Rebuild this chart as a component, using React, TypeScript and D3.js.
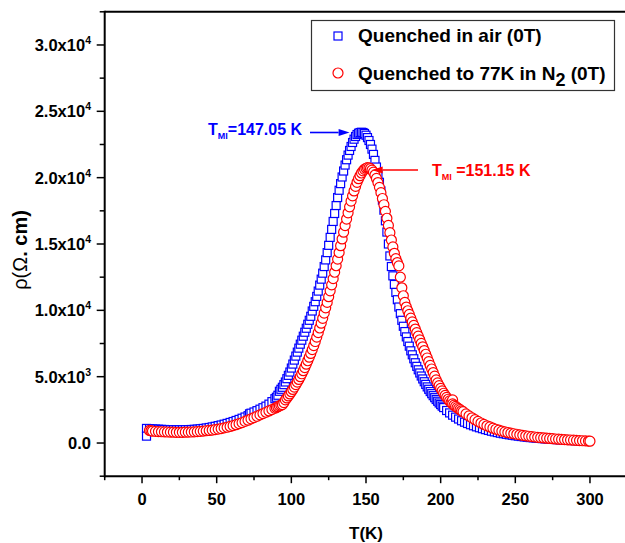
import React from "react";
import * as d3 from "d3";

// [T (K), rho (Ω·cm)] — quenched in air (0T)
const airData: [number, number][] = [
  [3, 1100], [3, 520], [5, 1080], [7, 1060], [9, 1050], [11, 1040], [13, 1030], [15, 1020], [17, 1010], [19, 1000],
  [21, 1000], [23, 1000], [25, 1000], [27, 1000], [29, 1005], [31, 1010], [33, 1020], [35, 1035], [37, 1050], [39, 1075],
  [41, 1100], [43, 1135], [45, 1170], [47, 1215], [49, 1260], [51, 1310], [53, 1360], [55, 1420], [57, 1480], [59, 1550],
  [61, 1620], [63, 1700], [65, 1780], [67, 1870], [69, 1960], [71, 2060], [72, 2200], [73, 2250], [75, 2340], [77, 2440],
  [79, 2550], [81, 2660], [83, 2780], [85, 2930], [87, 3120], [89, 3340], [90, 3450], [91, 3600], [92, 3900], [93, 4050],
  [94, 4200], [95, 4400], [96, 4600], [97, 4850], [98, 5100], [99, 5350], [100, 5650], [101, 5950], [102, 6250], [103, 6550],
  [104, 6850], [105, 7150], [106, 7450], [107, 7750], [108, 8050], [109, 8350], [110, 8650], [111, 8950], [112, 9250], [113, 9550],
  [114, 9950], [115, 10300], [116, 10650], [117, 11050], [118, 11450], [119, 11900], [120, 12350], [121, 12800], [122, 13300], [123, 13800],
  [124, 14350], [125, 14900], [126, 15500], [127, 16100], [128, 16700], [129, 17300], [130, 17900], [131, 18500], [132, 19050], [133, 19550],
  [134, 20050], [135, 20500], [136, 20950], [137, 21350], [138, 21700], [139, 22050], [140, 22350], [141, 22650], [142, 22900], [143, 23100],
  [144, 23250], [145, 23350], [146, 23400], [147, 23420], [148, 23400], [149, 23330], [150, 23200], [151, 23020], [152, 22800], [153, 22500],
  [154, 22150], [155, 21750], [156, 21300], [157, 20800], [158, 20250], [159, 19650], [160, 19000], [161, 18300], [162, 17550], [163, 16750],
  [164, 15900], [165, 15000], [166, 14100], [167, 13300], [168, 12600], [169, 11950], [170, 11350], [171, 10800], [172, 10250], [173, 9750],
  [174, 9250], [175, 8800], [176, 8400], [177, 8000], [178, 7650], [179, 7300], [180, 6950], [181, 6650], [182, 6350], [183, 6050],
  [184, 5780], [185, 5520], [186, 5280], [187, 5050], [188, 4830], [189, 4620], [190, 4420], [191, 4230], [192, 4050], [193, 3880],
  [194, 3720], [195, 3570], [196, 3420], [197, 3280], [198, 3150], [199, 3020], [200, 2900], [201, 2780], [202, 2670], [204, 2450],
  [206, 2270], [208, 2100], [210, 1950], [212, 1810], [214, 1680], [216, 1570], [218, 1470], [220, 1380], [222, 1300], [224, 1220],
  [226, 1150], [228, 1080], [230, 1010], [232, 950], [234, 890], [236, 840], [238, 790], [240, 740], [242, 700], [244, 660],
  [246, 620], [248, 585], [250, 550], [252, 520], [254, 490], [256, 460], [258, 435], [260, 410], [262, 390], [264, 370],
  [266, 350], [268, 330], [270, 315], [272, 300], [274, 285], [276, 270], [278, 255], [280, 240], [282, 228], [284, 216],
  [286, 204], [288, 192], [290, 180], [292, 170], [294, 160],
];

// [T (K), rho (Ω·cm)] — quenched to 77K in N2 (0T)
const n2Data: [number, number][] = [
  [5, 950], [6, 920], [7, 900], [9, 880], [11, 860], [13, 850], [15, 840], [17, 830], [19, 820], [21, 815],
  [23, 810], [25, 810], [27, 810], [29, 815], [31, 820], [33, 830], [35, 845], [37, 860], [39, 880], [41, 900],
  [43, 925], [45, 950], [47, 980], [49, 1010], [51, 1050], [53, 1090], [55, 1140], [57, 1190], [59, 1250], [61, 1310],
  [63, 1380], [65, 1460], [67, 1540], [69, 1630], [71, 1720], [73, 1820], [75, 1920], [77, 2020], [79, 2120], [81, 2220],
  [83, 2320], [85, 2420], [87, 2520], [89, 2620], [90, 2680], [91, 2740], [92, 2800], [93, 2850], [94, 2900], [95, 3050],
  [96, 3250], [97, 3400], [98, 3550], [99, 3700], [100, 3870], [101, 4040], [102, 4220], [103, 4400], [104, 4590], [105, 4790],
  [106, 5000], [107, 5220], [108, 5450], [109, 5690], [110, 5940], [111, 6200], [112, 6470], [113, 6750], [114, 7040], [115, 7340],
  [116, 7650], [117, 7980], [118, 8320], [119, 8670], [120, 9030], [121, 9400], [122, 9790], [123, 10190], [124, 10600], [125, 11030],
  [126, 11470], [127, 11920], [128, 12390], [129, 12870], [130, 13360], [131, 13860], [132, 14360], [133, 14870], [134, 15380], [135, 15890],
  [136, 16390], [137, 16880], [138, 17350], [139, 17800], [140, 18230], [141, 18630], [142, 19000], [143, 19340], [144, 19650], [145, 19920],
  [146, 20150], [147, 20350], [148, 20510], [149, 20630], [150, 20710], [151, 20750], [152, 20740], [153, 20680], [154, 20570], [155, 20410],
  [156, 20200], [157, 19940], [158, 19630], [159, 19270], [160, 18870], [161, 18430], [162, 17960], [163, 17460], [164, 16940], [165, 16400],
  [166, 15850], [167, 15300], [168, 14780], [169, 14300], [170, 13900], [171, 13600], [172, 13350], [173, 12500], [174, 11700], [175, 11100],
  [176, 10600], [177, 10250], [178, 9970], [179, 9690], [180, 9410], [181, 9130], [182, 8860], [183, 8590], [184, 8320], [185, 8050],
  [186, 7780], [187, 7510], [188, 7250], [189, 6970], [190, 6690], [191, 6410], [192, 6130], [193, 5850], [194, 5580], [195, 5310],
  [196, 5040], [197, 4760], [198, 4530], [199, 4320], [200, 4120], [201, 3930], [202, 3750], [203, 3590], [204, 3440], [205, 3300],
  [206, 3170], [207, 3050], [208, 3250], [208, 2950], [209, 2850], [210, 2760], [211, 2670], [212, 2590], [213, 2510], [214, 2430],
  [215, 2360], [217, 2200], [219, 2040], [221, 1900], [223, 1760], [225, 1630], [227, 1510], [229, 1400], [231, 1300], [233, 1210],
  [235, 1120], [237, 1040], [239, 970], [241, 900], [243, 840], [245, 790], [247, 740], [249, 700], [251, 660], [253, 620],
  [255, 580], [257, 545], [259, 510], [261, 480], [263, 455], [265, 430], [267, 405], [269, 385], [271, 365], [273, 345],
  [275, 325], [277, 305], [279, 290], [281, 275], [283, 260], [285, 245], [287, 230], [289, 215], [291, 200], [293, 185],
  [295, 170], [297, 160], [299, 150], [300, 140],
];

const xMajorTicks = [0, 50, 100, 150, 200, 250, 300];
const xMinorTicks = [-25, 25, 75, 125, 175, 225, 275, 325];
const yMajorTicks = [0, 5000, 10000, 15000, 20000, 25000, 30000];
const yMinorTicks = [-2500, 2500, 7500, 12500, 17500, 22500, 27500, 32500];
const yTickMantissa = ["0.0", "5.0x10", "1.0x10", "1.5x10", "2.0x10", "2.5x10", "3.0x10"];
const yTickExp = ["", "3", "4", "4", "4", "4", "4"];

const legendLabels = ["Quenched in air (0T)", "Quenched to 77K in N"];
const peakAir = { t: 147.05, label: "=147.05 K" };
const peakN2 = { t: 151.15, label: " =151.15 K" };

const BLUE = "#0000ff";
const RED = "#ff0000";
const FONT = "Arial, 'Liberation Sans', Helvetica, sans-serif";

export default function App() {
  const W = 625, H = 543;
  const x = d3.scaleLinear().domain([-25, 325]).range([104.7, 627.3]);
  const y = d3.scaleLinear().domain([-2500, 32500]).range([476.2, 11.8]);
  const x0 = x(-25), x1 = x(325), yb = y(-2500), yt = y(32500);
  const sq = 8;
  const r = 5;

  const arrow = (xs: number, xe: number, yy: number, color: string) => {
    const dir = xe > xs ? 1 : -1;
    const hl = 11, hw = 3.5;
    return (
      <g>
        <line x1={xs} y1={yy} x2={xe - dir * hl} y2={yy} stroke={color} strokeWidth={1.6} />
        <path d={`M${xe},${yy} L${xe - dir * hl},${yy - hw} L${xe - dir * hl},${yy + hw} Z`} fill={color} />
      </g>
    );
  };

  return (
    <svg width={W} height={H} style={{ position: "absolute", left: 0, top: 0, background: "#fff" }} fontFamily={FONT}>
      <rect x={0} y={0} width={W} height={H} fill="#fff" />
      <g>
        {airData.map(([t, v], i) => (
          <rect key={"a" + i} x={x(t) - sq / 2} y={y(v) - sq / 2} width={sq} height={sq}
            fill="#fff" stroke={BLUE} strokeWidth={1.2} />
        ))}
      </g>
      <g>
        {n2Data.map(([t, v], i) => (
          <circle key={"n" + i} cx={x(t)} cy={y(v)} r={r} fill="#fff" stroke={RED} strokeWidth={1.2} />
        ))}
      </g>

      <g stroke="#000" strokeWidth={2} fill="none">
        <line x1={x0} y1={yt} x2={x1} y2={yt} />
        <line x1={x0} y1={yb} x2={x1} y2={yb} />
        <line x1={x0} y1={yt - 1} x2={x0} y2={yb + 1} />
        <line x1={x1} y1={yt - 1} x2={x1} y2={yb + 1} />
      </g>

      <g stroke="#000" strokeWidth={1.5}>
        {xMajorTicks.map((t) => (
          <line key={"xM" + t} x1={x(t)} x2={x(t)} y1={yb} y2={yb + 7} />
        ))}
        {xMinorTicks.map((t) => (
          <line key={"xm" + t} x1={x(t)} x2={x(t)} y1={yb} y2={yb + 4} />
        ))}
        {yMajorTicks.map((v) => (
          <line key={"yM" + v} x1={x0 - 8} x2={x0} y1={y(v)} y2={y(v)} />
        ))}
        {yMinorTicks.map((v) => (
          <line key={"ym" + v} x1={x0 - 5} x2={x0} y1={y(v)} y2={y(v)} />
        ))}
      </g>

      <g fontSize={16.5} fontWeight="bold" textAnchor="middle" fill="#000">
        {xMajorTicks.map((t) => (
          <text key={"xl" + t} x={x(t)} y={505}>{t}</text>
        ))}
      </g>
      <g fontSize={16.5} fontWeight="bold" textAnchor="end" fill="#000">
        {yMajorTicks.map((v, i) => (
          <text key={"yl" + v} x={91} y={y(v) + 6}>
            {yTickMantissa[i]}
            {yTickExp[i] ? <tspan fontSize={10.5} dy={-7}>{yTickExp[i]}</tspan> : null}
          </text>
        ))}
      </g>

      <text x={366} y={539} fontSize={17} fontWeight="bold" textAnchor="middle">T(K)</text>
      <text transform="translate(27,250) rotate(-90)" fontSize={20} textAnchor="middle">
        <tspan fontWeight="normal">ρ(Ω</tspan>
        <tspan fontWeight="bold">. cm)</tspan>
      </text>

      <rect x={311.5} y={20.5} width={303} height={70} fill="#fff" stroke="#333" strokeWidth={1.2} />
      <rect x={338 - 4} y={36 - 4} width={8} height={8} fill="#fff" stroke={BLUE} strokeWidth={1.2} />
      <circle cx={338} cy={73} r={5} fill="#fff" stroke={RED} strokeWidth={1.2} />
      <text x={358} y={42} fontSize={19} fontWeight="bold">{legendLabels[0]}</text>
      <text x={358} y={80} fontSize={19} fontWeight="bold">
        {legendLabels[1]}
        <tspan dy={6} fontSize={18}>2</tspan>
        <tspan dy={-6}> (0T)</tspan>
      </text>

      <text x={208} y={135} fontSize={16} fontWeight="bold" fill={BLUE}>
        T<tspan fontSize={9} dy={4}>MI</tspan>
        <tspan dy={-4}>{peakAir.label}</tspan>
      </text>
      {arrow(310, x(peakAir.t) - 12, 132.5, BLUE)}
      <text x={432} y={176} fontSize={16} fontWeight="bold" fill={RED}>
        T<tspan fontSize={9} dy={4}>MI</tspan>
        <tspan dy={-4}>{peakN2.label}</tspan>
      </text>
      {arrow(418, x(peakN2.t) + 4, 170, RED)}
    </svg>
  );
}
